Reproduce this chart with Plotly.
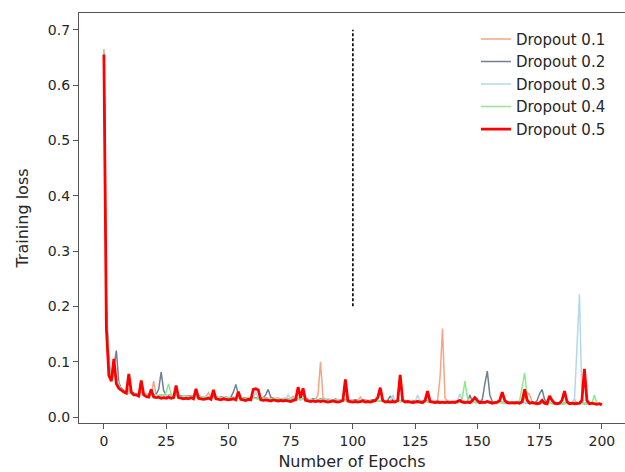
import plotly.graph_objects as go

epochs = list(range(0, 201))

loss_d01 = [
    0.665, 0.190, 0.092, 0.070, 0.076, 0.068, 0.055, 0.050, 0.047, 0.045,
    0.050, 0.044, 0.043, 0.042, 0.041, 0.045, 0.042, 0.041, 0.040, 0.041,
    0.065, 0.040, 0.039, 0.040, 0.039, 0.038, 0.040, 0.039, 0.038, 0.040,
    0.038, 0.037, 0.038, 0.037, 0.039, 0.037, 0.036, 0.038, 0.037, 0.036,
    0.036, 0.037, 0.044, 0.036, 0.035, 0.036, 0.035, 0.037, 0.035, 0.034,
    0.035, 0.034, 0.036, 0.035, 0.034, 0.033, 0.035, 0.034, 0.033, 0.034,
    0.035, 0.034, 0.033, 0.034, 0.033, 0.035, 0.034, 0.033, 0.032, 0.034,
    0.033, 0.032, 0.034, 0.033, 0.032, 0.033, 0.038, 0.033, 0.032, 0.033,
    0.032, 0.033, 0.032, 0.031, 0.033, 0.032, 0.040, 0.100, 0.035, 0.032,
    0.031, 0.032, 0.031, 0.033, 0.031, 0.032, 0.031, 0.030, 0.032, 0.031,
    0.030, 0.031, 0.030, 0.036, 0.030, 0.031, 0.030, 0.029, 0.031, 0.030,
    0.029, 0.030, 0.031, 0.029, 0.030, 0.029, 0.031, 0.030, 0.029, 0.030,
    0.029, 0.030, 0.029, 0.028, 0.030, 0.029, 0.028, 0.030, 0.029, 0.028,
    0.029, 0.028, 0.030, 0.029, 0.030, 0.070, 0.160, 0.035, 0.029, 0.028,
    0.028, 0.029, 0.028, 0.030, 0.028, 0.027, 0.029, 0.028, 0.027, 0.028,
    0.029, 0.027, 0.028, 0.027, 0.029, 0.027, 0.028, 0.027, 0.026, 0.028,
    0.027, 0.026, 0.028, 0.027, 0.026, 0.027, 0.028, 0.027, 0.026, 0.035,
    0.045, 0.040, 0.028, 0.026, 0.027, 0.026, 0.025, 0.027, 0.026, 0.025,
    0.026, 0.027, 0.025, 0.026, 0.025, 0.026, 0.025, 0.024, 0.026, 0.032,
    0.025, 0.026, 0.025, 0.024, 0.026, 0.025, 0.024, 0.025, 0.024, 0.025,
    0.024,
]

loss_d02 = [
    0.660, 0.200, 0.100, 0.072, 0.090, 0.120, 0.062, 0.052, 0.048, 0.046,
    0.045, 0.044, 0.043, 0.042, 0.043, 0.041, 0.042, 0.040, 0.041, 0.040,
    0.040, 0.041, 0.050, 0.081, 0.048, 0.039, 0.038, 0.040, 0.038, 0.039,
    0.038, 0.039, 0.037, 0.038, 0.037, 0.039, 0.037, 0.036, 0.038, 0.037,
    0.036, 0.037, 0.036, 0.035, 0.037, 0.036, 0.035, 0.036, 0.035, 0.036,
    0.035, 0.036, 0.045, 0.059, 0.040, 0.035, 0.034, 0.035, 0.034, 0.035,
    0.034, 0.035, 0.034, 0.033, 0.035, 0.040, 0.050, 0.036, 0.034, 0.033,
    0.034, 0.033, 0.032, 0.034, 0.033, 0.032, 0.033, 0.032, 0.034, 0.033,
    0.032, 0.033, 0.032, 0.031, 0.033, 0.032, 0.031, 0.033, 0.032, 0.031,
    0.032, 0.031, 0.030, 0.032, 0.031, 0.030, 0.031, 0.032, 0.030, 0.031,
    0.030, 0.031, 0.030, 0.029, 0.031, 0.030, 0.029, 0.030, 0.031, 0.029,
    0.030, 0.029, 0.030, 0.029, 0.030, 0.038, 0.030, 0.029, 0.030, 0.029,
    0.029, 0.030, 0.028, 0.029, 0.030, 0.028, 0.029, 0.028, 0.030, 0.029,
    0.028, 0.029, 0.028, 0.027, 0.029, 0.028, 0.027, 0.028, 0.029, 0.027,
    0.028, 0.027, 0.028, 0.027, 0.029, 0.028, 0.027, 0.040, 0.028, 0.027,
    0.028, 0.027, 0.032, 0.060, 0.083, 0.040, 0.028, 0.027, 0.026, 0.028,
    0.027, 0.026, 0.028, 0.027, 0.026, 0.027, 0.026, 0.025, 0.027, 0.026,
    0.025, 0.026, 0.027, 0.025, 0.030, 0.042, 0.050, 0.032, 0.026, 0.025,
    0.026, 0.025, 0.024, 0.026, 0.025, 0.024, 0.026, 0.025, 0.024, 0.025,
    0.024, 0.025, 0.026, 0.024, 0.025, 0.024, 0.025, 0.024, 0.023, 0.024,
    0.023,
]

loss_d03 = [
    0.660, 0.190, 0.095, 0.070, 0.080, 0.075, 0.058, 0.050, 0.047, 0.045,
    0.044, 0.043, 0.042, 0.041, 0.042, 0.040, 0.041, 0.040, 0.039, 0.040,
    0.039, 0.040, 0.039, 0.038, 0.040, 0.039, 0.038, 0.039, 0.038, 0.037,
    0.038, 0.037, 0.038, 0.037, 0.036, 0.038, 0.037, 0.036, 0.037, 0.036,
    0.036, 0.037, 0.036, 0.035, 0.036, 0.035, 0.036, 0.035, 0.034, 0.036,
    0.035, 0.034, 0.035, 0.034, 0.036, 0.034, 0.033, 0.034, 0.033, 0.035,
    0.034, 0.045, 0.034, 0.033, 0.034, 0.033, 0.034, 0.032, 0.033, 0.034,
    0.033, 0.032, 0.033, 0.032, 0.040, 0.033, 0.032, 0.033, 0.032, 0.031,
    0.040, 0.032, 0.031, 0.032, 0.031, 0.032, 0.031, 0.030, 0.032, 0.031,
    0.030, 0.031, 0.030, 0.031, 0.032, 0.030, 0.031, 0.030, 0.029, 0.031,
    0.030, 0.029, 0.030, 0.031, 0.029, 0.030, 0.029, 0.030, 0.029, 0.028,
    0.030, 0.029, 0.028, 0.030, 0.029, 0.028, 0.040, 0.029, 0.028, 0.029,
    0.028, 0.029, 0.028, 0.030, 0.028, 0.027, 0.040, 0.028, 0.029, 0.027,
    0.028, 0.027, 0.029, 0.028, 0.027, 0.028, 0.027, 0.028, 0.029, 0.027,
    0.028, 0.027, 0.029, 0.042, 0.028, 0.027, 0.028, 0.027, 0.026, 0.028,
    0.027, 0.026, 0.028, 0.027, 0.026, 0.027, 0.026, 0.028, 0.027, 0.026,
    0.027, 0.026, 0.025, 0.027, 0.026, 0.025, 0.026, 0.027, 0.025, 0.026,
    0.025, 0.026, 0.025, 0.026, 0.025, 0.024, 0.026, 0.025, 0.024, 0.025,
    0.026, 0.024, 0.025, 0.024, 0.026, 0.025, 0.024, 0.025, 0.024, 0.030,
    0.120, 0.222, 0.030, 0.025, 0.024, 0.025, 0.024, 0.023, 0.025, 0.024,
    0.023,
]

loss_d04 = [
    0.660, 0.180, 0.090, 0.068, 0.078, 0.070, 0.056, 0.049, 0.046, 0.044,
    0.043, 0.042, 0.041, 0.042, 0.040, 0.041, 0.040, 0.039, 0.040, 0.039,
    0.038, 0.039, 0.038, 0.040, 0.039, 0.045, 0.060, 0.040, 0.038, 0.037,
    0.038, 0.037, 0.036, 0.038, 0.037, 0.036, 0.037, 0.036, 0.035, 0.037,
    0.036, 0.035, 0.036, 0.035, 0.034, 0.036, 0.035, 0.034, 0.035, 0.034,
    0.035, 0.034, 0.033, 0.035, 0.034, 0.033, 0.034, 0.033, 0.035, 0.034,
    0.033, 0.034, 0.032, 0.033, 0.034, 0.032, 0.033, 0.032, 0.034, 0.033,
    0.032, 0.033, 0.032, 0.031, 0.033, 0.032, 0.031, 0.032, 0.033, 0.031,
    0.032, 0.031, 0.030, 0.032, 0.031, 0.030, 0.031, 0.032, 0.030, 0.031,
    0.030, 0.031, 0.030, 0.029, 0.031, 0.030, 0.029, 0.030, 0.031, 0.029,
    0.030, 0.029, 0.028, 0.030, 0.029, 0.028, 0.029, 0.030, 0.028, 0.029,
    0.028, 0.029, 0.028, 0.027, 0.029, 0.028, 0.027, 0.028, 0.029, 0.027,
    0.028, 0.027, 0.028, 0.027, 0.026, 0.028, 0.027, 0.026, 0.027, 0.028,
    0.027, 0.026, 0.027, 0.026, 0.028, 0.027, 0.026, 0.027, 0.026, 0.025,
    0.027, 0.026, 0.025, 0.027, 0.035, 0.065, 0.035, 0.026, 0.027, 0.026,
    0.025, 0.026, 0.025, 0.027, 0.026, 0.025, 0.026, 0.025, 0.024, 0.026,
    0.025, 0.024, 0.026, 0.025, 0.024, 0.025, 0.026, 0.030, 0.055, 0.080,
    0.035, 0.026, 0.025, 0.024, 0.025, 0.024, 0.025, 0.024, 0.023, 0.025,
    0.024, 0.023, 0.025, 0.024, 0.023, 0.024, 0.025, 0.023, 0.024, 0.023,
    0.024, 0.023, 0.024, 0.025, 0.023, 0.024, 0.023, 0.040, 0.024, 0.023,
    0.023,
]

loss_d05 = [
    0.655, 0.160, 0.075, 0.065, 0.105, 0.060, 0.052, 0.048, 0.045, 0.043,
    0.078, 0.045, 0.040, 0.040, 0.038, 0.066, 0.040, 0.037, 0.036, 0.050,
    0.036, 0.035, 0.036, 0.034, 0.035, 0.034, 0.036, 0.034, 0.035, 0.057,
    0.035, 0.034, 0.033, 0.034, 0.033, 0.035, 0.033, 0.051, 0.034, 0.033,
    0.032, 0.033, 0.034, 0.032, 0.049, 0.033, 0.032, 0.031, 0.033, 0.032,
    0.031, 0.032, 0.033, 0.031, 0.046, 0.032, 0.031, 0.030, 0.032, 0.031,
    0.050, 0.051, 0.049, 0.031, 0.030, 0.031, 0.030, 0.029, 0.031, 0.030,
    0.029, 0.030, 0.029, 0.030, 0.029, 0.028, 0.030, 0.031, 0.054, 0.035,
    0.052, 0.030, 0.029, 0.028, 0.029, 0.028, 0.029, 0.028, 0.029, 0.028,
    0.027, 0.028, 0.029, 0.028, 0.027, 0.028, 0.030, 0.068, 0.029, 0.028,
    0.027, 0.028, 0.027, 0.028, 0.029, 0.027, 0.028, 0.027, 0.028, 0.030,
    0.035, 0.053, 0.030, 0.027, 0.028, 0.027, 0.028, 0.027, 0.030, 0.076,
    0.030, 0.027, 0.028, 0.027, 0.026, 0.027, 0.028, 0.027, 0.026, 0.030,
    0.047, 0.028, 0.027, 0.026, 0.027, 0.026, 0.027, 0.026, 0.027, 0.026,
    0.027, 0.026, 0.028, 0.030, 0.027, 0.026, 0.027, 0.026, 0.030, 0.035,
    0.030, 0.026, 0.027, 0.026, 0.028, 0.026, 0.025, 0.026, 0.027, 0.030,
    0.045, 0.030, 0.026, 0.025, 0.026, 0.025, 0.026, 0.025, 0.028, 0.050,
    0.030, 0.025, 0.026, 0.025, 0.024, 0.025, 0.030, 0.025, 0.024, 0.038,
    0.030, 0.025, 0.024, 0.025, 0.030, 0.047, 0.028, 0.024, 0.025, 0.024,
    0.024, 0.025, 0.030, 0.087, 0.030, 0.024, 0.025, 0.024, 0.023, 0.024,
    0.022,
]

series_names = ["Dropout 0.1", "Dropout 0.2", "Dropout 0.3", "Dropout 0.4", "Dropout 0.5"]
series_values = [loss_d01, loss_d02, loss_d03, loss_d04, loss_d05]

marker_x = [100, 100]
marker_y = [0.2, 0.7]

x_ticks = [0, 25, 50, 75, 100, 125, 150, 175, 200]
y_ticks = [0.0, 0.1, 0.2, 0.3, 0.4, 0.5, 0.6, 0.7]
y_tick_labels = ["0.0", "0.1", "0.2", "0.3", "0.4", "0.5", "0.6", "0.7"]

for v in series_values:
    assert len(v) == len(epochs), len(v)

colors = ["#f5a585", "#6f7f92", "#b3d9e8", "#8fe88f", "#ff0000"]
widths = [1.5, 1.5, 1.5, 1.5, 2.8]

fig = go.Figure()
for name, vals, c, w in zip(series_names, series_values, colors, widths):
    fig.add_trace(go.Scatter(x=epochs, y=vals, mode="lines", name=name,
                             line=dict(color=c, width=w)))

fig.add_trace(go.Scatter(x=marker_x, y=marker_y, mode="lines", showlegend=False,
                         line=dict(color="black", width=1.6, dash="3px,2px")))

axis_common = dict(showgrid=False, zeroline=False, showline=True, linecolor="#555555",
                   linewidth=1.3, ticks="outside", ticklen=5, tickwidth=1.3,
                   tickcolor="#555555", tickfont=dict(size=14, color="#262626"))

fig.update_layout(
    width=625, height=472,
    margin=dict(l=79, r=0, t=13, b=49),
    paper_bgcolor="white", plot_bgcolor="white",
    font=dict(family="DejaVu Sans", color="#262626"),
    hovermode=False,
    xaxis=dict(range=[-10, 209.3], tickvals=x_ticks, mirror=True,
               title=dict(text="Number of Epochs", font=dict(size=16), standoff=7),
               **axis_common),
    yaxis=dict(range=[-0.0108, 0.7302], tickvals=y_ticks, ticktext=y_tick_labels,
               title=dict(text="Training loss", font=dict(size=16), standoff=15),
               **axis_common),
    legend=dict(x=0.727, y=0.976, xanchor="left", yanchor="top",
                bgcolor="rgba(0,0,0,0)", borderwidth=0,
                font=dict(size=15, color="#262626"), tracegroupgap=0),
    showlegend=True,
)

fig.write_html("out.html", config={"displayModeBar": False},
               post_script="document.body.style.margin='0';document.body.style.overflow='hidden';")
